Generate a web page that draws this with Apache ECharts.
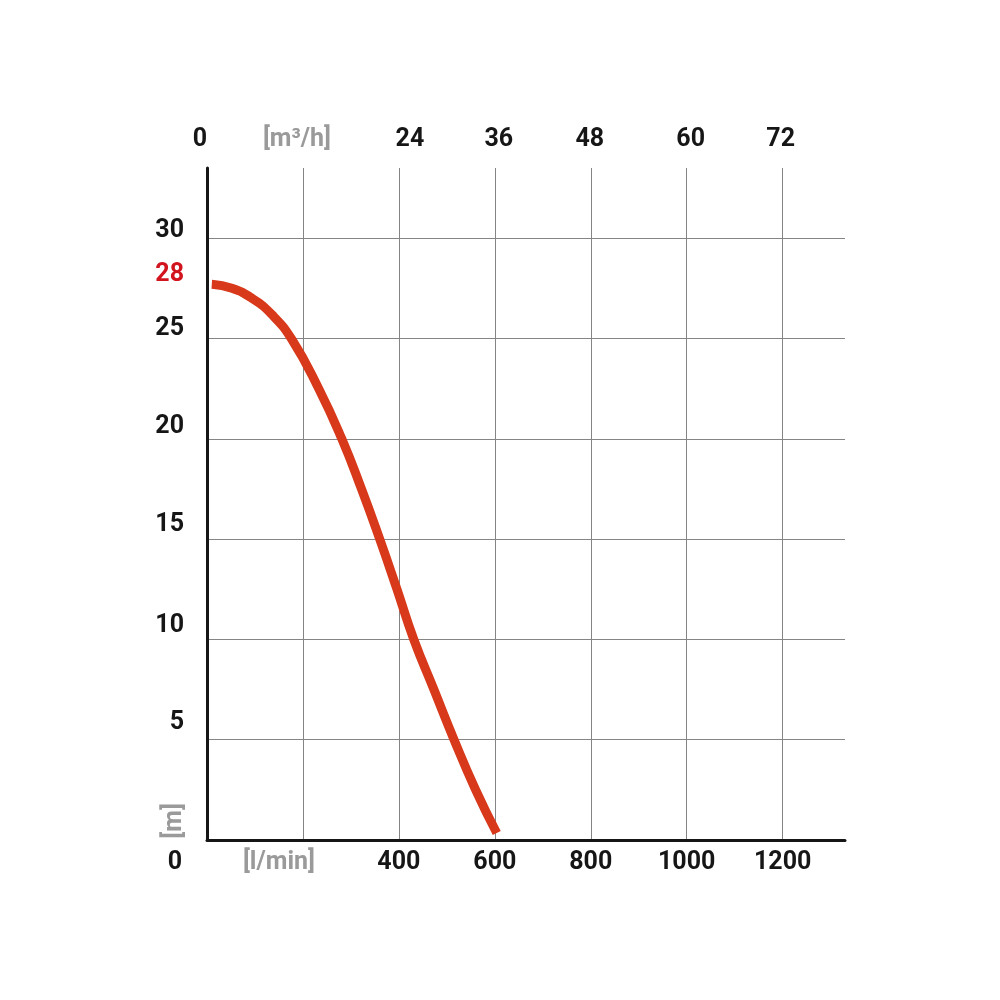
<!DOCTYPE html>
<html>
<head>
<meta charset="utf-8">
<script src="https://cdn.jsdelivr.net/npm/echarts@6/dist/echarts.min.js"></script>
<style>
html,body{margin:0;padding:0;background:#fff;}
#chart{width:1000px;height:1000px;}
</style>
</head>
<body>
<div id="chart"></div>
<script>
// ---- data ----
const flowLpm = [10, 52, 94, 135, 177, 233, 281, 322, 360, 396, 431, 473, 515, 560, 604];
const headM   = [27.7, 27.5, 27.0, 26.2, 24.95, 22.5, 20.0, 17.5, 15.0, 12.5, 10.0, 7.5, 5.0, 2.5, 0.35];
const bottomTickValues = [0, 200, 400, 600, 800, 1000, 1200];
const bottomLabels = ['0', '[l/min]', '400', '600', '800', '1000', '1200'];
const topLabels = ['0', '[m\u00b3/h]', '24', '36', '48', '60', '72'];
const yTickValues = [5, 10, 15, 20, 25, 28, 30];
const yMarkedValue = 28;
const yUnit = '[m]';
const yUnitValue = 0.95;

// ---- style ----
const FONT = 'Roboto';
const WEIGHT = 'bold';
const BLACK = '#161616';
const GRAY = '#9a9a9a';
const RED = '#d2141e';
const bottomShift = [-32, -24, 0, 0, 0, 0, 0];
const topShift = [-7, -6, 11, 4, -1, 4, -2];
const yShift = {5: -17, 10: -14, 15: -14, 20: -12, 25: -10, 28: -4, 30: -7};

function hPad(dx) { return [0, dx < 0 ? -2 * dx : 0, 0, dx > 0 ? 2 * dx : 0]; }
const bottomRich = {}, topRich = {}, yRich = {};
bottomLabels.forEach((t, i) => {
  bottomRich['b' + i] = {fontFamily: FONT, fontSize: 25, fontWeight: WEIGHT, color: i === 1 ? GRAY : BLACK, padding: hPad(bottomShift[i])};
});
topLabels.forEach((t, i) => {
  topRich['t' + i] = {fontFamily: FONT, fontSize: 25, fontWeight: WEIGHT, color: i === 1 ? GRAY : BLACK, padding: hPad(topShift[i])};
});
yTickValues.forEach(v => {
  yRich['y' + v] = {fontFamily: FONT, fontSize: 25, fontWeight: WEIGHT, color: v === yMarkedValue ? RED : BLACK, padding: [0, 0, -2 * yShift[v], 0]};
});

const chart = echarts.init(document.getElementById('chart'), null, {renderer: 'canvas'});
const xCommon = {type: 'value', min: 0, max: 1330, interval: 200};
chart.setOption({
  animation: false,
  backgroundColor: '#ffffff',
  grid: {left: 207, right: 155, top: 168, bottom: 160, containLabel: false},
  xAxis: [
    Object.assign({}, xCommon, {
      position: 'bottom',
      axisLine: {show: true, onZero: false, lineStyle: {color: BLACK, width: 3}},
      axisTick: {show: false},
      splitLine: {show: true, showMinLine: false, showMaxLine: false, lineStyle: {color: '#858585', width: 1}},
      axisLabel: {
        margin: 10,
        customValues: bottomTickValues,
        formatter: v => { const i = bottomTickValues.indexOf(v); return i < 0 ? '' : '{b' + i + '|' + bottomLabels[i] + '}'; },
        rich: bottomRich
      }
    }),
    Object.assign({}, xCommon, {
      position: 'top',
      axisLine: {show: false},
      axisTick: {show: false},
      splitLine: {show: false},
      axisLabel: {
        margin: 16,
        customValues: bottomTickValues,
        formatter: v => { const i = bottomTickValues.indexOf(v); return i < 0 ? '' : '{t' + i + '|' + topLabels[i] + '}'; },
        rich: topRich
      }
    })
  ],
  yAxis: {
    type: 'value', min: 0, max: 33.5, interval: 5,
    axisLine: {show: true, onZero: false, lineStyle: {color: BLACK, width: 3}},
    axisTick: {show: false},
    splitLine: {show: true, showMinLine: false, showMaxLine: false, lineStyle: {color: '#858585', width: 1}},
    axisLabel: {
      margin: 23,
      customValues: yTickValues,
      formatter: v => (yTickValues.indexOf(v) < 0 ? '' : '{y' + v + '|' + v + '}'),
      rich: yRich
    }
  },
  series: [{
    type: 'line',
    data: flowLpm.map((x, i) => [x, headM[i]]),
    smooth: 0.5,
    symbol: 'none',
    lineStyle: {color: '#d8391b', width: 9, cap: 'butt'},
    z: 5
  }]
});

// unit label of the vertical axis, placed through the axis scales
const ux = chart.convertToPixel({xAxisIndex: 0}, 0) - 32;
const uy = chart.convertToPixel({yAxisIndex: 0}, yUnitValue);
chart.setOption({
  graphic: [{
    type: 'text',
    x: ux, y: uy,
    rotation: Math.PI / 2,
    style: {text: yUnit, fontFamily: FONT, fontSize: 25, fontWeight: WEIGHT, fill: GRAY, align: 'center', verticalAlign: 'middle'}
  }]
});
</script>
</body>
</html>
